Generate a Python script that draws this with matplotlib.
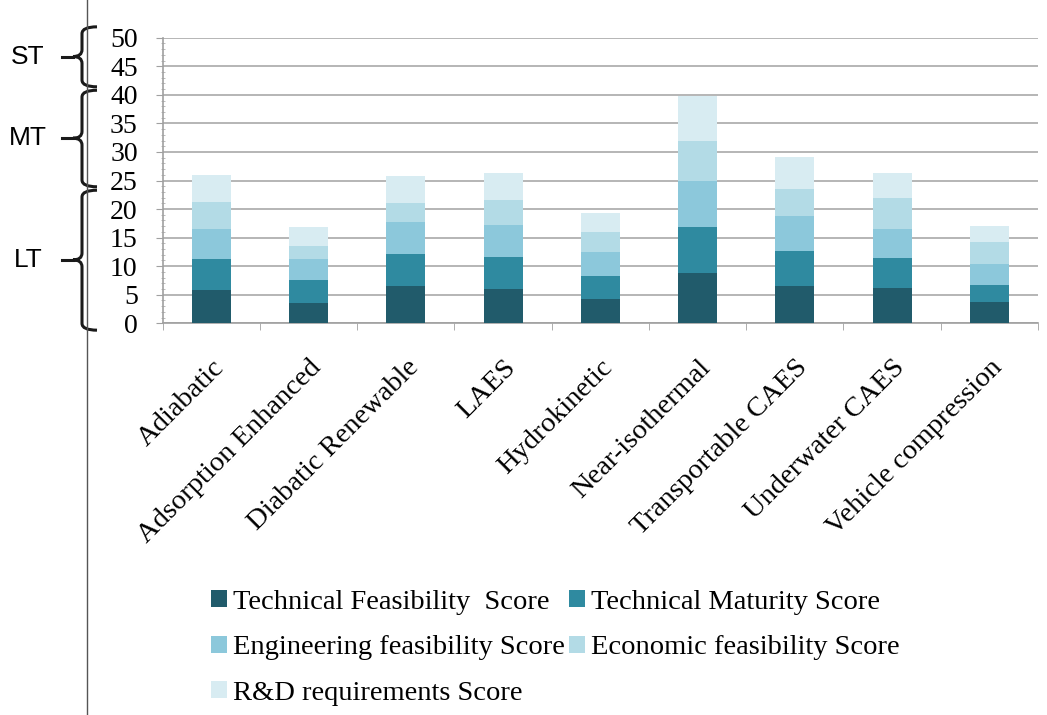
import numpy as np
import matplotlib.pyplot as plt
from matplotlib.path import Path
from matplotlib.patches import PathPatch
from matplotlib.transforms import blended_transform_factory
from matplotlib.lines import Line2D

categories = ['Adiabatic', 'Adsorption Enhanced', 'Diabatic Renewable', 'LAES',
              'Hydrokinetic', 'Near-isothermal', 'Transportable CAES',
              'Underwater CAES', 'Vehicle compression']
series_names = ['Technical Feasibility  Score', 'Technical Maturity Score',
                'Engineering feasibility Score', 'Economic feasibility Score',
                'R&D requirements Score']
tech_feasibility = [5.8, 3.6, 6.5, 6.0, 4.3, 8.8, 6.6, 6.2, 3.7]
tech_maturity = [5.4, 4.0, 5.6, 5.6, 4.0, 8.1, 6.1, 5.2, 3.0]
eng_feasibility = [5.3, 3.6, 5.6, 5.6, 4.1, 8.1, 6.0, 5.1, 3.6]
econ_feasibility = [4.8, 2.4, 3.4, 4.3, 3.5, 7.0, 4.8, 5.4, 4.0]
rd_requirements = [4.7, 3.2, 4.7, 4.9, 3.35, 7.8, 5.7, 4.35, 2.8]
colors = ['#215b6b', '#2f8aa0', '#8cc8db', '#b3dbe6', '#d8ecf2']

horizon_labels = ['ST', 'MT', 'LT']
horizon_spans = [(51.9, 41.4), (40.8, 23.9), (23.3, -1.2)]
horizon_tips = [46.7, 32.4, 11.1]

plt.rcParams['font.family'] = ['Liberation Serif', 'DejaVu Serif']

fig = plt.figure(figsize=(10.47, 7.15), dpi=100)
ax = fig.add_axes([0.1554, 0.5478, 0.836, 0.3995])

x = np.arange(len(categories))
bottom = np.zeros(len(categories))
data = [tech_feasibility, tech_maturity, eng_feasibility, econ_feasibility, rd_requirements]
for vals, name, col in zip(data, series_names, colors):
    ax.bar(x, vals, 0.4, bottom=bottom, color=col, label=name, zorder=3)
    bottom += np.array(vals)

ax.set_xlim(-0.5, len(categories) - 0.5)
ax.set_ylim(0, 50)
ax.set_yticks(np.arange(0, 51, 5))
ax.set_yticks(np.arange(0, 51, 1), minor=True)
ax.yaxis.grid(True, color='#b5b5b5', linewidth=1.4, zorder=0)
ax.tick_params(axis='y', which='major', labelsize=20, length=5, color='#a0a0a0',
               pad=13, direction='out')
ax.tick_params(axis='y', which='minor', length=3, color='#b0b0b0', direction='inout')
ax.set_xticks(x)
ax.set_xticklabels(categories, rotation=45, ha='right', rotation_mode='anchor',
                   fontsize=20.5)
ax.set_xticks(np.arange(-0.5, len(categories), 1), minor=True)
ax.tick_params(axis='x', which='major', length=0, pad=23)
ax.tick_params(axis='x', which='minor', length=5, color='#a0a0a0', direction='out')
for s in ['top', 'right']:
    ax.spines[s].set_visible(False)
for s in ['left', 'bottom']:
    ax.spines[s].set_color('#a0a0a0')
    ax.spines[s].set_linewidth(1.2)

# braces for horizons
tr = blended_transform_factory(fig.transFigure, ax.transData)
xv = 82 / 1047
xe = 97 / 1047
xt = 73 / 1047
for lab, (ytop, ybot), ytip in zip(horizon_labels, horizon_spans, horizon_tips):
    d = 1.2
    verts = [(xe, ytop), (xv, ytop), (xv, ytop - d), (xv, ytop - d),
             (xv, ytip + d), (xv, ytip), (xt, ytip),
             (xv, ytip), (xv, ytip - d),
             (xv, ybot + d), (xv, ybot + d), (xv, ybot), (xe, ybot)]
    codes = [Path.MOVETO, Path.CURVE3, Path.CURVE3, Path.LINETO,
             Path.LINETO, Path.CURVE3, Path.CURVE3,
             Path.CURVE3, Path.CURVE3,
             Path.LINETO, Path.LINETO, Path.CURVE3, Path.CURVE3]
    fig.add_artist(PathPatch(Path(verts, codes), transform=tr, fill=False,
                             edgecolor='#1a1a1a', linewidth=2.2, clip_on=False))
    fig.add_artist(Line2D([62 / 1047, xt], [ytip, ytip], transform=tr,
                          color='#1a1a1a', linewidth=2.2))
    fig.text(28 / 1047, ytip, lab, transform=tr, ha='center', va='center',
             fontsize=19, family=['Liberation Sans', 'DejaVu Sans'])

fig.add_artist(Line2D([87 / 1047, 87 / 1047], [0, 1], transform=fig.transFigure,
                      color='#555555', linewidth=1.0))

# legend fills column-wise, so reorder to read row-wise like the original
handles, labels = ax.get_legend_handles_labels()
order = [0, 2, 4, 1, 3]
fig.legend([handles[i] for i in order], [labels[i] for i in order],
           loc='upper left', bbox_to_anchor=(0.191, 0.191),
           ncol=2, frameon=False, fontsize=20.5, handlelength=0.55, handleheight=0.55,
           handletextpad=0.22, columnspacing=0.15, labelspacing=0.72,
           borderaxespad=0)

fig.savefig('out.png', dpi=100)
